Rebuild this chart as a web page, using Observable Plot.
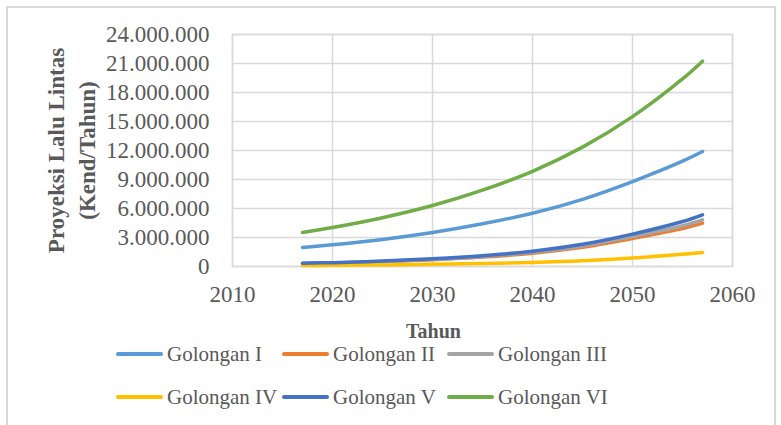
<!DOCTYPE html>
<html>
<head>
<meta charset="utf-8">
<script src="https://cdn.jsdelivr.net/npm/d3@7"></script>
<script src="https://cdn.jsdelivr.net/npm/@observablehq/plot@0.6"></script>
<style>
  html, body { margin: 0; padding: 0; background: #ffffff; }
  #wrap { position: relative; width: 781px; height: 425px; overflow: hidden; background: #ffffff; }
  #border { position: absolute; left: 6px; top: 6px; width: 770px; height: 440px; border: 2px solid #d9d9d9; box-sizing: border-box; }
  #chart { position: absolute; left: 0; top: 0; }
  #chart svg text { font-family: "Liberation Serif", "Times New Roman", serif !important; font-variant: normal !important; }
  #legend { position: absolute; left: 0; top: 0; width: 781px; font-family: "Liberation Serif", "Times New Roman", serif; font-size: 21px; color: #595959; }
  .item { position: absolute; display: flex; align-items: center; height: 24px; white-space: nowrap; }
  .swatch { width: 47px; height: 4px; border-radius: 2px; margin-right: 4px; }
</style>
</head>
<body>
<div id="wrap">
  <div id="border"></div>
  <div id="chart"></div>
  <div id="legend"></div>
</div>
<script>
// Projected yearly traffic per vehicle class (vehicles/year)
const years = [2017, 2020, 2025, 2030, 2035, 2040, 2045, 2050, 2055, 2057];
const golonganI   = [1970000, 2240000, 2800000, 3520000, 4420000, 5510000, 6950000, 8790000, 10900000, 11900000];
const golonganII  = [300000, 350000, 490000, 690000, 970000, 1370000, 1990000, 2900000, 3920000, 4480000];
const golonganIII = [320000, 370000, 520000, 740000, 1040000, 1470000, 2130000, 3100000, 4220000, 4830000];
const golonganIV  = [100000, 120000, 160000, 220000, 300000, 420000, 600000, 880000, 1260000, 1450000];
const golonganV   = [340000, 400000, 560000, 800000, 1120000, 1580000, 2300000, 3350000, 4650000, 5350000];
const golonganVI  = [3520000, 4030000, 5050000, 6310000, 7900000, 9850000, 12350000, 15500000, 19400000, 21240000];

const seriesNames = ["Golongan I", "Golongan II", "Golongan III", "Golongan IV", "Golongan V", "Golongan VI"];
const seriesValues = [golonganI, golonganII, golonganIII, golonganIV, golonganV, golonganVI];
const seriesColors = ["#5b9bd5", "#ed7d31", "#a5a5a5", "#ffc000", "#4472c4", "#70ad47"];

const xTicks = [2010, 2020, 2030, 2040, 2050, 2060];
const yTicks = [0, 3000000, 6000000, 9000000, 12000000, 15000000, 18000000, 21000000, 24000000];

const rows = seriesNames.flatMap((name, i) =>
  years.map((year, j) => ({year, value: seriesValues[i][j], series: name}))
);

// Thousands separated with dots
const dotFormat = d => d3.format(",")(d).replace(/,/g, ".");

const grid = "#d9d9d9";
const serif = "Liberation Serif, Times New Roman, serif";

const chart = Plot.plot({
  width: 781,
  height: 340,
  marginLeft: 232,
  marginRight: 49,
  marginTop: 34,
  marginBottom: 74,
  style: {
    fontFamily: serif,
    fontSize: "23px",
    color: "#595959",
    background: "transparent",
    overflow: "visible"
  },
  x: {domain: [2010, 2060]},
  y: {domain: [0, 24000000]},
  color: {domain: seriesNames, range: seriesColors},
  marks: [
    Plot.gridX(xTicks, {stroke: grid, strokeOpacity: 1, strokeWidth: 1.5}),
    Plot.gridY(yTicks, {stroke: grid, strokeOpacity: 1, strokeWidth: 1.5}),
    Plot.frame({stroke: grid, strokeWidth: 1.5}),
    Plot.axisX(xTicks, {tickSize: 0, tickPadding: 19, tickFormat: d => String(d), label: null, fontSize: 23}),
    Plot.axisY(yTicks, {tickSize: 0, tickPadding: 23, tickFormat: dotFormat, label: null, fontSize: 23}),
    Plot.line(rows, {
      x: "year", y: "value", z: "series", stroke: "series",
      strokeWidth: 3.5, strokeLinecap: "round", curve: "catmull-rom"
    }),
    Plot.text(["Proyeksi Lalu Lintas\n(Kend/Tahun)"], {
      frameAnchor: "left", dx: -163, rotate: -90, lineHeight: 1.36,
      textAnchor: "middle", lineAnchor: "middle",
      fontWeight: "bold", fontSize: 23, fill: "#595959"
    }),
    Plot.text(["Tahun"], {
      frameAnchor: "bottom", dx: -49, dy: 65,
      textAnchor: "middle", lineAnchor: "middle",
      fontWeight: "bold", fontSize: 20, fill: "#595959"
    })
  ]
});
document.getElementById("chart").appendChild(chart);

// Legend: two rows of three entries
const legend = d3.select("#legend");
const colX = [116, 282, 447];
const rowY = [342, 385];
seriesNames.forEach((name, i) => {
  const item = legend.append("div")
    .attr("class", "item")
    .style("left", colX[i % 3] + "px")
    .style("top", rowY[Math.floor(i / 3)] + "px");
  item.append("div").attr("class", "swatch").style("background", seriesColors[i]);
  item.append("span").text(name);
});
</script>
</body>
</html>
